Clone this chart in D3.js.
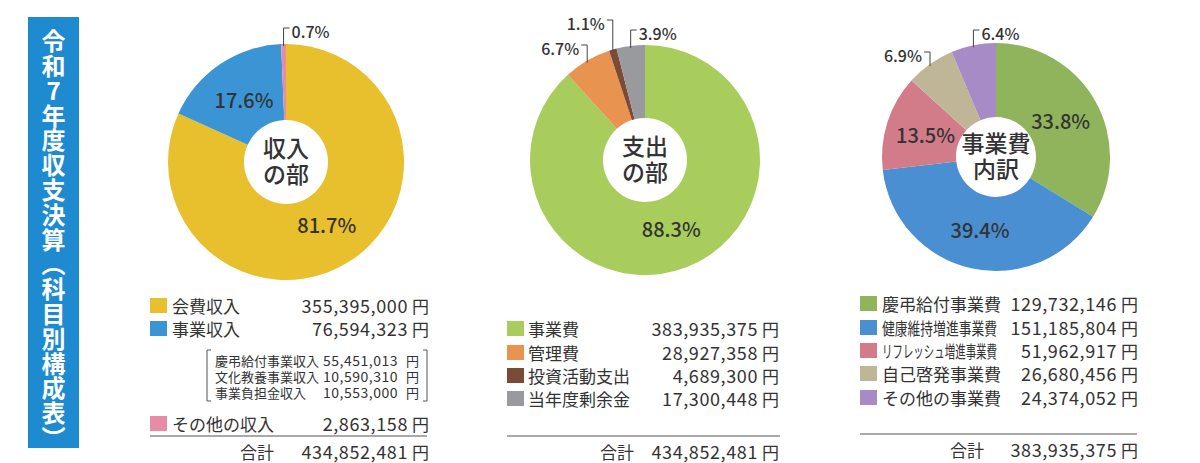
<!DOCTYPE html>
<html>
<head>
<meta charset="utf-8">
<script src="https://cdn.jsdelivr.net/npm/d3@7"></script>
<style>
  body { margin: 0; background: #fff; }
  svg { display: block; }
  text { font-family: "Noto Sans CJK JP", "Noto Sans", sans-serif; fill: #333; }
</style>
</head>
<body>
<div id="chart"></div>
<script>
// 収入の部
const incomeCats = ['会費収入', '事業収入', 'その他の収入']
const incomeValues = [355395000, 76594323, 2863158]
const incomeLabels = ['81.7%', '17.6%', '0.7%']
const incomeColors = ['#E8BF2C', '#3B95D4', '#E68CA7']
const incomeSubCats = ['慶弔給付事業収入', '文化教養事業収入', '事業負担金収入']
const incomeSubValues = [55451013, 10590310, 10553000]
const incomeTotal = 434852481

// 支出の部
const expenseCats = ['事業費', '管理費', '投資活動支出', '当年度剰余金']
const expenseValues = [383935375, 28927358, 4689300, 17300448]
const expenseLabels = ['88.3%', '6.7%', '1.1%', '3.9%']
const expenseColors = ['#A8CD5C', '#E8934F', '#7C4B37', '#999A9D']
const expenseTotal = 434852481

// 事業費内訳
const projectCats = ['慶弔給付事業費', '健康維持増進事業費', 'リフレッシュ増進事業費', '自己啓発事業費', 'その他の事業費']
const projectValues = [129732146, 151185804, 51962917, 26680456, 24374052]
const projectLabels = ['33.8%', '39.4%', '13.5%', '6.9%', '6.4%']
const projectColors = ['#8FB45B', '#4A8FD1', '#D27C89', '#BFB698', '#A68BC6']
const projectTotal = 383935375

const titleText = '令和7年度収支決算（科目別構成表）'

const W = 1200, H = 463
const fmt = d3.format(',')

const svg = d3.select('#chart').append('svg')
  .attr('width', W)
  .attr('height', H)

// Title bar
svg.append('rect')
  .attr('x', 28).attr('y', 17)
  .attr('width', 51).attr('height', 431)
  .attr('fill', '#1E8AD0')

svg.append('text')
  .attr('x', 53.5).attr('y', 29)
  .style('writing-mode', 'vertical-rl')
  .style('text-orientation', 'upright')
  .style('fill', '#fff')
  .style('font-size', '24px')
  .style('font-weight', 700)
  .style('letter-spacing', '0.8px')
  .text(titleText)

// layout per chart
const charts = [
  {
    cats: incomeCats, values: incomeValues, labels: incomeLabels, colors: incomeColors, total: incomeTotal,
    cx: 286, cy: 162, r: 118, hole: 42, labelR: 75, center: ['収入', 'の部'],
    callouts: { 2: { y: 28, dir: 1 } },
    legend: { x: 150, labelX: 172, valueX: 408, rows: [305, 328, 423], lineY: 436, lineX2: 427, totalY: 451, totalX: 240 }
  },
  {
    cats: expenseCats, values: expenseValues, labels: expenseLabels, colors: expenseColors, total: expenseTotal,
    cx: 645, cy: 160, r: 115, hole: 42, labelR: 73, center: ['支出', 'の部'],
    callouts: { 1: { y: 45, dir: -1 }, 2: { y: 20, dir: -1 }, 3: { y: 30, dir: 1 } },
    legend: { x: 507, labelX: 528, valueX: 758, rows: [328, 352, 375, 398], lineY: 436, lineX2: 780, totalY: 451, totalX: 600 }
  },
  {
    cats: projectCats, values: projectValues, labels: projectLabels, colors: projectColors, total: projectTotal,
    cx: 996, cy: 157, r: 114, hole: 40, labelR: 74, center: ['事業費', '内訳'],
    callouts: { 3: { y: 52, dir: -1 }, 4: { y: 30, dir: 1 } },
    legend: { x: 860, labelX: 882, valueX: 1117, rows: [303, 327, 350, 373, 397], lineY: 434, lineX2: 1137, totalY: 449, totalX: 950 }
  }
]

function yen(g, x, y, size) {
  g.append('text')
    .attr('x', x).attr('y', y)
    .attr('dominant-baseline', 'central')
    .style('font-size', size + 'px')
    .text('円')
}

function drawChart(c) {
  const pie = d3.pie().sort(null).value(d => d)
  const arcs = pie(c.values)
  const arc = d3.arc().innerRadius(c.hole).outerRadius(c.r)
  const labelArc = d3.arc().innerRadius(c.labelR).outerRadius(c.labelR)
  const edgeArc = d3.arc().innerRadius(c.r).outerRadius(c.r)

  const g = svg.append('g').attr('transform', `translate(${c.cx},${c.cy})`)

  g.selectAll('path')
    .data(arcs)
    .join('path')
    .attr('d', arc)
    .attr('fill', (d, i) => c.colors[i])

  // percentage labels inside
  g.selectAll('text.pct')
    .data(arcs.filter((d, i) => !c.callouts[i]))
    .join('text')
    .attr('class', 'pct')
    .attr('transform', d => `translate(${labelArc.centroid(d)})`)
    .attr('text-anchor', 'middle')
    .attr('dominant-baseline', 'central')
    .style('font-size', '20px')
    .style('font-weight', 500)
    .text(d => c.labels[d.index])

  // callouts outside
  arcs.forEach((d, i) => {
    const co = c.callouts[i]
    if (!co) return
    const [sx, sy] = edgeArc.centroid(d)
    const ly = co.y - c.cy
    g.append('polyline')
      .attr('points', [[sx, sy + 2], [sx, ly], [sx + co.dir * 6, ly]].map(p => p.join(',')).join(' '))
      .attr('fill', 'none')
      .attr('stroke', '#444')
      .attr('stroke-width', 1)
    g.append('text')
      .attr('x', sx + co.dir * 8)
      .attr('y', ly + 3)
      .attr('text-anchor', co.dir > 0 ? 'start' : 'end')
      .attr('dominant-baseline', 'central')
      .style('font-size', '16px')
      .style('font-weight', 500)
      .text(c.labels[i])
  })

  // centre hole text
  g.selectAll('text.center')
    .data(c.center)
    .join('text')
    .attr('class', 'center')
    .attr('y', (d, i) => (i - 0.5) * 26 - 2)
    .attr('text-anchor', 'middle')
    .attr('dominant-baseline', 'central')
    .style('font-size', '23px')
    .style('font-weight', 500)
    .text(d => d)

  // legend
  const L = c.legend
  const lg = svg.append('g')
  c.cats.forEach((cat, i) => {
    const y = L.rows[i]
    lg.append('rect')
      .attr('x', L.x).attr('y', y - 7)
      .attr('width', 17).attr('height', 15)
      .attr('fill', c.colors[i])
    const t = lg.append('text')
      .attr('x', L.labelX).attr('y', y)
      .attr('dominant-baseline', 'central')
      .style('font-size', '17px')
      .text(cat)
    if (cat.length > 7) t.attr('textLength', 115).attr('lengthAdjust', 'spacingAndGlyphs')
    lg.append('text')
      .attr('x', L.valueX).attr('y', y)
      .attr('text-anchor', 'end')
      .attr('dominant-baseline', 'central')
      .style('font-size', '18px')
      .style('letter-spacing', '0.6px')
      .text(fmt(c.values[i]))
    yen(lg, L.valueX + 4, y, 17)
  })

  lg.append('line')
    .attr('x1', L.x).attr('x2', L.lineX2)
    .attr('y1', L.lineY).attr('y2', L.lineY)
    .attr('stroke', '#555').attr('stroke-width', 1.2)

  lg.append('text')
    .attr('x', L.totalX).attr('y', L.totalY)
    .attr('dominant-baseline', 'central')
    .style('font-size', '17px')
    .text('合計')
  lg.append('text')
    .attr('x', L.valueX).attr('y', L.totalY)
    .attr('text-anchor', 'end')
    .attr('dominant-baseline', 'central')
    .style('font-size', '18px')
    .style('letter-spacing', '0.6px')
    .text(fmt(c.total))
  yen(lg, L.valueX + 4, L.totalY, 17)

  return lg
}

const legends = charts.map(drawChart)

// 事業収入 breakdown box
const sub = legends[0]
const subRows = [360, 376, 392]
const bx1 = 207, bx2 = 427, by1 = 350, by2 = 401
sub.append('polyline')
  .attr('points', `${bx1 + 4},${by1} ${bx1},${by1} ${bx1},${by2} ${bx1 + 4},${by2}`)
  .attr('fill', 'none').attr('stroke', '#555')
sub.append('polyline')
  .attr('points', `${bx2 - 4},${by1} ${bx2},${by1} ${bx2},${by2} ${bx2 - 4},${by2}`)
  .attr('fill', 'none').attr('stroke', '#555')
incomeSubCats.forEach((cat, i) => {
  sub.append('text')
    .attr('x', 215).attr('y', subRows[i])
    .attr('dominant-baseline', 'central')
    .style('font-size', '13px')
    .text(cat)
  sub.append('text')
    .attr('x', 398).attr('y', subRows[i])
    .attr('text-anchor', 'end')
    .attr('dominant-baseline', 'central')
    .style('font-size', '14px')
    .style('letter-spacing', '0.5px')
    .text(fmt(incomeSubValues[i]))
  yen(sub, 406, subRows[i], 13)
})
</script>
</body>
</html>
